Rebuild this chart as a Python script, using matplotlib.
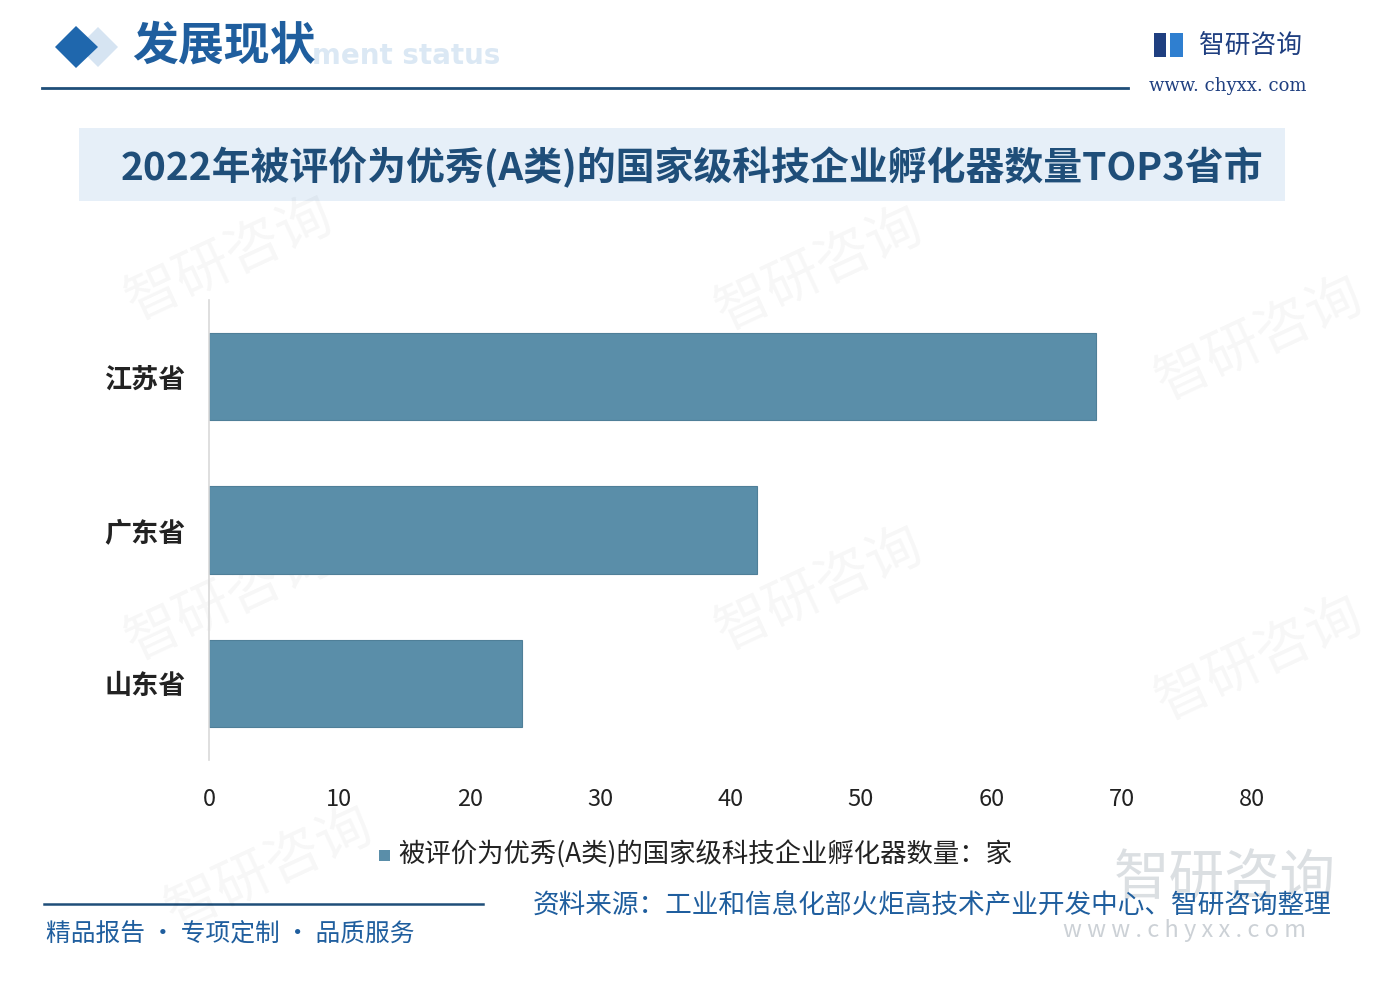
import matplotlib
matplotlib.use("Agg")
import matplotlib.pyplot as plt
from matplotlib.patches import Rectangle, Polygon

plt.rcParams['font.family'] = ['Noto Sans CJK SC', 'DejaVu Sans']

categories = ["江苏省", "广东省", "山东省"]
values = [68, 42, 24]
xticks = [0, 10, 20, 30, 40, 50, 60, 70, 80]
title = "2022年被评价为优秀(A类)的国家级科技企业孵化器数量TOP3省市"
legend_label = "被评价为优秀(A类)的国家级科技企业孵化器数量：家"
source = "资料来源：工业和信息化部火炬高技术产业开发中心、智研咨询整理"
slogan = "精品报告 · 专项定制 · 品质服务"

W, H = 1398, 986
fig = plt.figure(figsize=(W / 100, H / 100), dpi=100)
fig.patch.set_facecolor("white")

deco = fig.add_axes([0, 0, 1, 1])
deco.set_xlim(0, W)
deco.set_ylim(H, 0)
deco.axis("off")
deco.set_zorder(0)

# faint watermarks
for (x, y) in [(230, 260), (820, 270), (1260, 340), (230, 600), (820, 590), (1260, 660), (270, 870)]:
    deco.text(x, y, "智研咨询", fontsize=40, color="#000000", alpha=0.035, rotation=25,
              ha="center", va="center")

# header
deco.text(500, 56, "ment status", fontsize=20, fontweight="bold", color="#dbe8f4",
          ha="right", va="center", family=["DejaVu Sans"])
deco.add_patch(Polygon([[78, 47], [98, 27], [118, 47], [98, 67]], closed=True,
                       facecolor="#d6e4f2", edgecolor="none"))
deco.add_patch(Polygon([[55, 47], [76, 26], [98, 47], [76, 68]], closed=True,
                       facecolor="#1f67ad", edgecolor="none"))
deco.text(132, 47, "发展现状", fontsize=33, fontweight="bold", color="#1f5e9e",
          ha="left", va="center")
deco.plot([42, 1128], [88, 88], color="#1f4e79", lw=2)

# logo
deco.add_patch(Rectangle((1154, 33), 12, 24, facecolor="#1f3f80", edgecolor="none"))
deco.add_patch(Rectangle((1170, 33), 13, 24, facecolor="#2f7fd0", edgecolor="none"))
deco.text(1199, 46, "智研咨询", fontsize=18.5, color="#1f3f80", ha="left", va="center")
deco.text(1149, 86, "www. chyxx. com", fontsize=13, color="#1f3f80", ha="left", va="center",
          family=["DejaVu Serif"])

# title band
deco.add_patch(Rectangle((79, 128), 1206, 73, facecolor="#e6eff8", edgecolor="none"))
deco.text(692, 168, title, fontsize=28, fontweight="bold", color="#1f4e79",
          ha="center", va="center")

# legend
deco.add_patch(Rectangle((379, 850), 11, 11, facecolor="#5a8ea9", edgecolor="none"))
deco.text(398, 855, legend_label, fontsize=19, color="#222222", ha="left", va="center")

# footer
deco.plot([44, 483], [904, 904], color="#1f4e79", lw=1.8)
deco.text(46, 934, slogan, fontsize=17.8, color="#1f5e9e", ha="left", va="center")
deco.text(1225, 880, "智研咨询", fontsize=40, color="#9aa4ae", alpha=0.35, ha="center", va="center")
deco.text(1185, 931, "w w w . c h y x x . c o m", fontsize=17, color="#9aa4ae", alpha=0.5,
          ha="center", va="center")
deco.text(533, 906, source, fontsize=19.2, color="#1f5e9e", ha="left", va="center")

# main chart
ax = fig.add_axes([209 / W, 1 - 760 / H, (1252 - 209) / W, 460 / H])
ax.set_zorder(1)
ax.patch.set_alpha(0)
ypos = list(range(len(categories)))
ax.barh(ypos, values, height=0.57, color="#5a8ea9", edgecolor="#4f7f98", linewidth=0.8)
ax.set_xlim(0, 80)
ax.set_ylim(2.5, -0.5)
ax.set_yticks(ypos)
ax.set_yticklabels(categories, fontsize=19.5, fontweight="bold", color="#222222")
ax.set_xticks(xticks)
ax.set_xticklabels([str(t) for t in xticks], fontsize=17, color="#222222")
ax.tick_params(axis="both", length=0)
ax.tick_params(axis="y", pad=17)
ax.tick_params(axis="x", pad=20)
for s in ["top", "right", "bottom"]:
    ax.spines[s].set_visible(False)
ax.spines["left"].set_color("#d9d9d9")
ax.spines["left"].set_linewidth(1.2)

fig.savefig("out.png", dpi=100, facecolor="white")
